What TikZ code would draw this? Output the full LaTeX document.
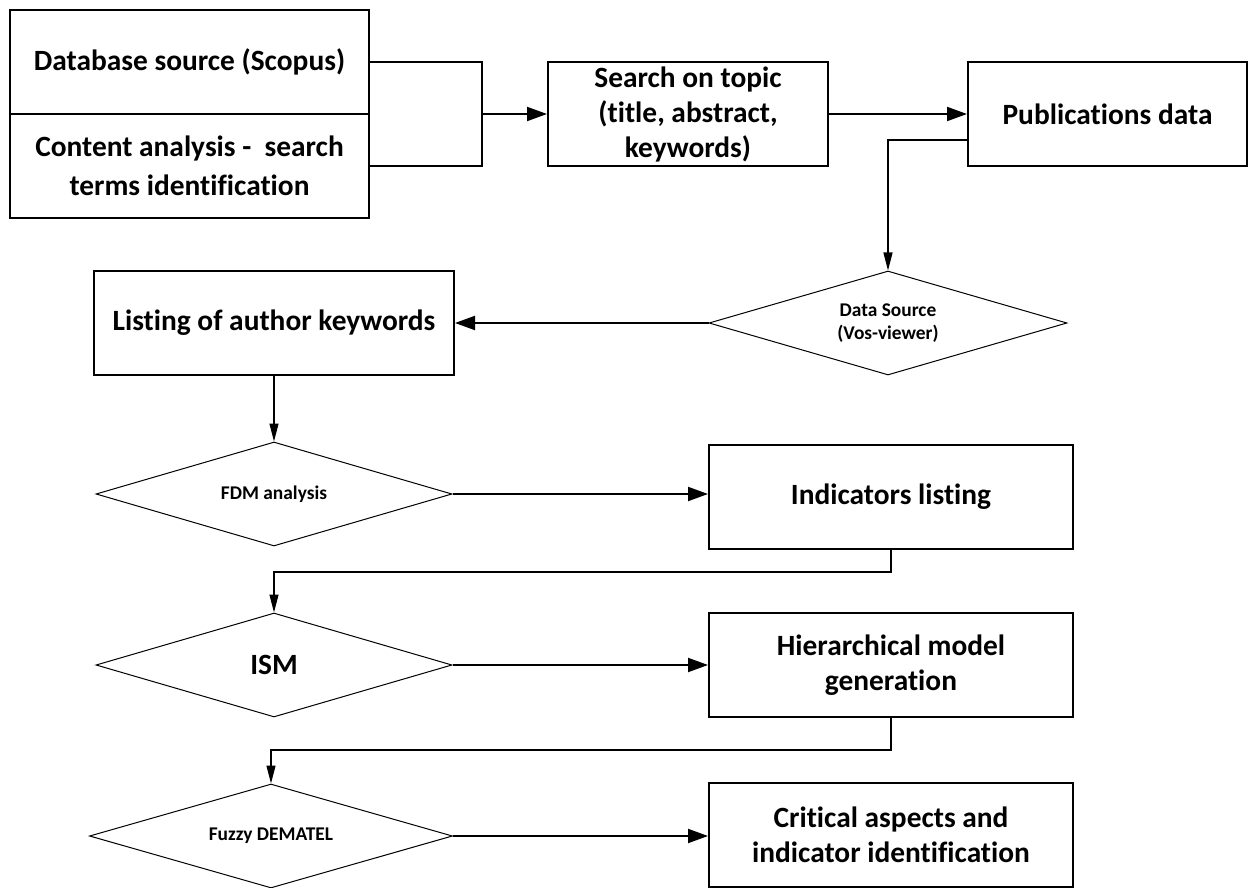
\documentclass[tikz,border=0pt]{standalone}
\usepackage{fontspec}
\setmainfont{Carlito}[Ligatures=NoCommon]
\usetikzlibrary{shapes.geometric,arrows.meta}

\tikzset{
  box/.style={draw, line width=1pt, rectangle, minimum height=52pt, inner sep=0pt,
    align=center, font=\bfseries\fontsize{14.7}{17.5}\selectfont},
  choice/.style={draw, line width=0.5pt, diamond, shape aspect=3.4, minimum height=52pt,
    inner sep=0pt, align=center, font=\bfseries\fontsize{9.7}{11.5}\selectfont},
  link/.style={line width=1pt, -{Triangle[length=10pt,width=7pt]}},
  thinlink/.style={line width=0.6pt, -{Triangle[length=9pt,width=4.5pt]}},
}

\begin{document}
\begin{tikzpicture}[x=0.5pt,y=-0.5pt]
    \useasboundingbox (0,0) rectangle (1249,888);

    % Prima riga
    \node[box, minimum width=179.5pt] (db) at (189.5,62) {Database source (Scopus)};
    \node[box, minimum width=179.5pt, font=\bfseries\fontsize{14.7}{19.5}\selectfont] (ca) at (189.5,166)
        {Content analysis -\ \ search\\ terms identification};
    \node[box, minimum width=140pt] (search) at (688,114) {Search on topic\\ (title, abstract,\\ keywords)};
    \node[box, minimum width=139.5pt] (pub) at (1107.5,114) {Publications data};
    \coordinate (join) at (482,114);

    % Seconda riga
    \node[choice, minimum width=179pt] (vos) at (888,323) {Data Source\\ (Vos-viewer)};
    \node[box, minimum width=180pt] (listing) at (274,323) {Listing of author keywords};

    % Metodi
    \node[choice, minimum width=178pt] (fdm) at (274,494) {FDM analysis};
    \node[box, minimum width=182pt] (ind) at (891,497) {Indicators listing};
    \node[choice, minimum width=178pt, font=\bfseries\fontsize{14.7}{17.5}\selectfont] (ism) at (274,665) {ISM};
    \node[box, minimum width=182pt] (hier) at (891,665) {Hierarchical model\\ generation};
    \node[choice, minimum width=181.5pt] (fuzzy) at (271,836) {Fuzzy DEMATEL};
    \node[box, minimum width=182pt] (crit) at (891,835) {Critical aspects and\\ indicator identification};

    % Frecce
    \draw[line width=1pt] (db.east) -| (join) |- (ca.east);
    \draw[link] (join) -- (search.west);
    \draw[link] (search.east) -- (pub.west);
    \draw[thinlink] ([yshift=-13pt]pub.west) -| (vos.north);
    \draw[link] (vos.west) -- (listing.east);
    \draw[thinlink] (listing.south) -- (fdm.north);
    \draw[link] (fdm.east) -- (fdm.east -| ind.west);
    \draw[thinlink] (ind.south) -- ++(0,22) -| (ism.north);
    \draw[link] (ism.east) -- (hier.west);
    \draw[thinlink] (hier.south) -- ++(0,32) -| (fuzzy.north);
    \draw[link] (fuzzy.east) -- (fuzzy.east -| crit.west);
\end{tikzpicture}
\end{document}
